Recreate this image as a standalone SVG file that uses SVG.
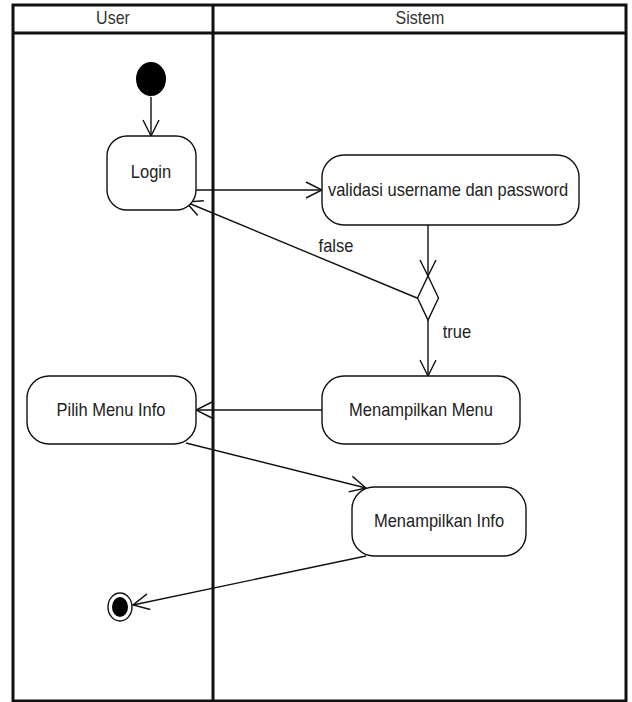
<svg xmlns="http://www.w3.org/2000/svg" width="632" height="702" viewBox="0 0 632 702">
  <defs>
    <marker id="open" viewBox="0 0 18 18" refX="17" refY="9" markerWidth="18" markerHeight="18" markerUnits="userSpaceOnUse" orient="auto">
      <path d="M1,1 L17,9 L1,17" fill="none" stroke="#111" stroke-width="1.4"/>
    </marker>
    <style>
      .frame { fill: none; stroke: #111; stroke-width: 3; }
      .node { fill: #fff; stroke: #111; stroke-width: 1.4; }
      .flow { fill: none; stroke: #111; stroke-width: 1.4; marker-end: url(#open); }
      .lbl { font-family: "Liberation Sans", Arial, sans-serif; font-size: 16.5px; fill: #222; text-anchor: middle; }
      .hdr { font-family: "Liberation Sans", Arial, sans-serif; font-size: 16px; fill: #333; text-anchor: middle; }
    </style>
  </defs>
  <rect width="632" height="702" fill="#fff"/>

  <!-- swimlanes -->
  <g id="lanes">
    <rect class="frame" x="13" y="5" width="613" height="696"/>
    <line class="frame" x1="13" y1="33" x2="626" y2="33"/>
    <line class="frame" x1="213" y1="5" x2="213" y2="701"/>
    <text class="hdr" transform="translate(113 24) scale(1 1.15)">User</text>
    <text class="hdr" transform="translate(420 24) scale(1 1.15)">Sistem</text>
  </g>

  <!-- connectors -->
  <g id="connectors">
    <line class="flow" x1="151" y1="97" x2="151" y2="136"/>
    <line class="flow" x1="196" y1="190" x2="322" y2="190"/>
    <line class="flow" x1="428" y1="225" x2="428" y2="276"/>
    <line class="flow" x1="417" y1="298" x2="186" y2="202"/>
    <line class="flow" x1="428" y1="320" x2="428" y2="376"/>
    <line class="flow" x1="322" y1="410" x2="196" y2="410"/>
    <line class="flow" x1="186" y1="443" x2="366" y2="488"/>
    <line class="flow" x1="366" y1="556" x2="133" y2="605"/>
    <text class="lbl" transform="translate(336 252) scale(1 1.15)">false</text>
    <text class="lbl" transform="translate(457 338) scale(1 1.15)">true</text>
  </g>

  <g id="start">
    <ellipse cx="151" cy="79" rx="15" ry="17" fill="#000"/>
  </g>

  <g id="login">
    <rect class="node" x="107" y="136" width="89" height="74" rx="20" ry="20"/>
    <text class="lbl" transform="translate(151 178) scale(1 1.15)">Login</text>
  </g>

  <g id="validasi">
    <rect class="node" x="322" y="155" width="257" height="70" rx="22" ry="22"/>
    <text class="lbl" transform="translate(448 196) scale(1 1.15)">validasi username dan password</text>
  </g>

  <g id="decision">
    <polygon class="node" points="428,276 438.5,298 428,320 417.5,298"/>
  </g>

  <g id="menampilkan-menu">
    <rect class="node" x="322" y="376" width="198" height="68" rx="22" ry="22"/>
    <text class="lbl" transform="translate(421 416) scale(1 1.15)">Menampilkan Menu</text>
  </g>

  <g id="pilih-menu-info">
    <rect class="node" x="27" y="376" width="169" height="68" rx="22" ry="22"/>
    <text class="lbl" transform="translate(111 416) scale(1 1.15)">Pilih Menu Info</text>
  </g>

  <g id="menampilkan-info">
    <rect class="node" x="352" y="487" width="174" height="69" rx="22" ry="22"/>
    <text class="lbl" transform="translate(439 527) scale(1 1.15)">Menampilkan Info</text>
  </g>

  <g id="end">
    <ellipse cx="120" cy="607" rx="12" ry="14" fill="#fff" stroke="#111" stroke-width="1.4"/>
    <ellipse cx="120" cy="607" rx="8" ry="10" fill="#000"/>
  </g>
</svg>
